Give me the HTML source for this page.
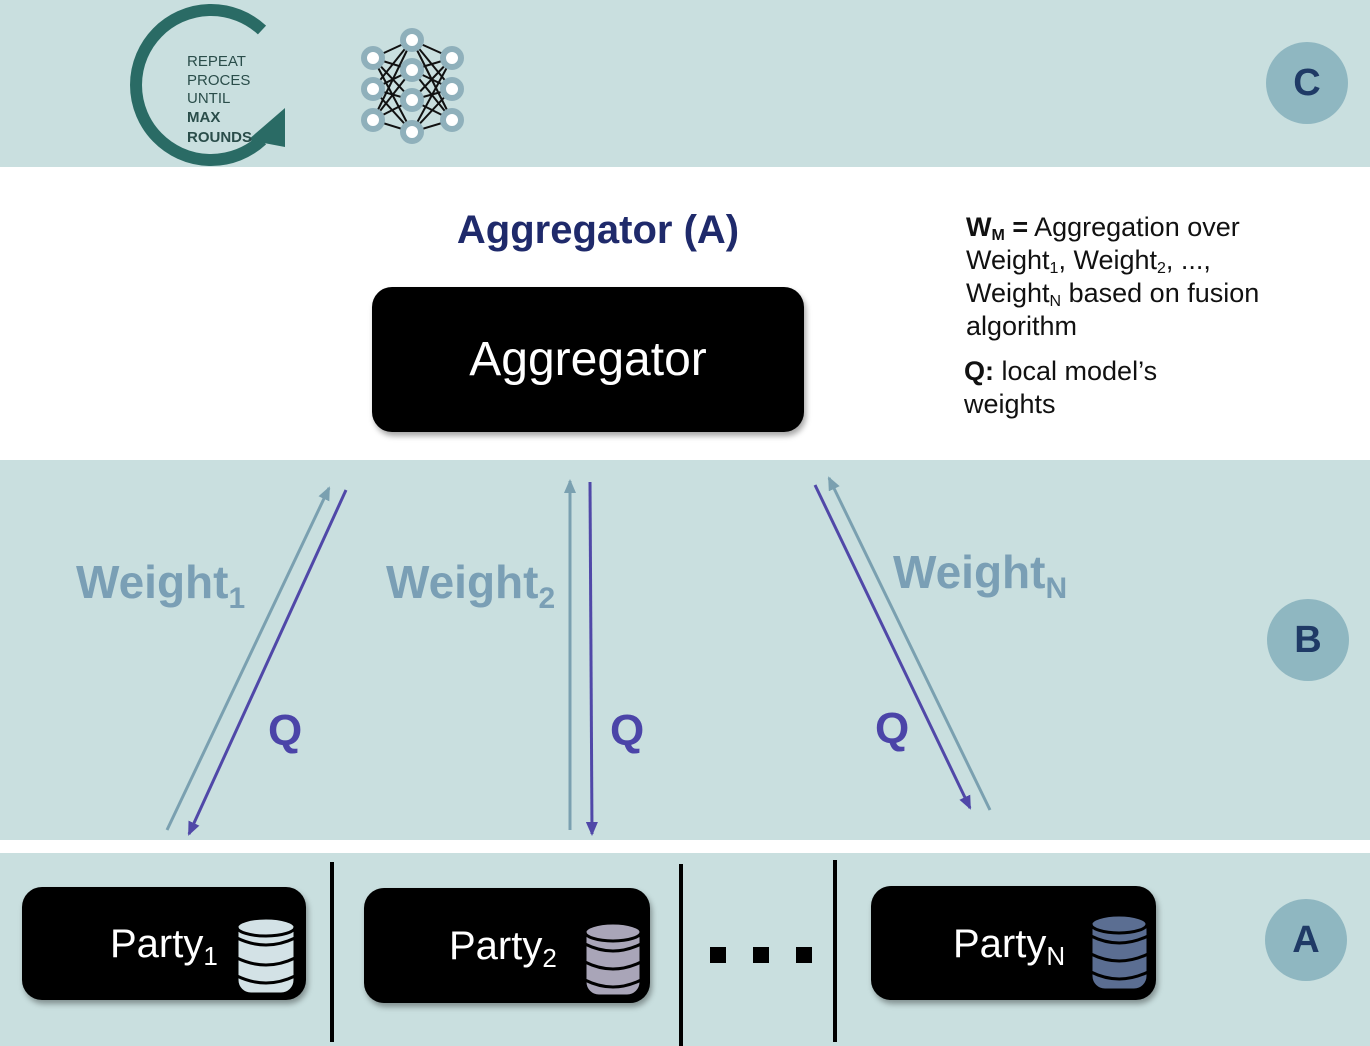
<!DOCTYPE html>
<html><head><meta charset="utf-8"><style>
body{margin:0;width:1370px;height:1046px;position:relative;overflow:hidden;background:#fff;font-family:"Liberation Sans",sans-serif}
.band{position:absolute;left:0;width:1370px;background:#c9dfdf}
.circ{position:absolute;width:82px;height:82px;border-radius:50%;background:#8fb7c1;color:#1f3a66;font-weight:bold;font-size:38px;text-align:center;line-height:82px}
.box{position:absolute;background:#000;border-radius:20px;box-shadow:2px 4px 6px rgba(0,0,0,.35);color:#fff}
.vl{position:absolute;width:4px;background:#000}
.pt{position:absolute;font-size:40px;color:#fff}
.pt sub{font-size:26px;vertical-align:-8px;line-height:0}
.wl{position:absolute;font-size:46px;font-weight:bold;color:#7a9fb5}
.wl sub{font-size:30px;vertical-align:-10px;line-height:0}
.q{position:absolute;font-size:44px;font-weight:bold;color:#4b44a8}
.rt{position:absolute;left:966px;font-size:27px;color:#111;line-height:33px}
.rt sub{font-size:16px;vertical-align:-4px;line-height:0}
</style></head><body>
<div class="band" style="top:0;height:167px"></div>
<div class="band" style="top:460px;height:380px"></div>
<div class="band" style="top:853px;height:193px"></div>

<svg style="position:absolute;left:0;top:0" width="1370" height="1046">
<path d="M262 30 A75 75 0 1 0 262 140" fill="none" stroke="#2a6b65" stroke-width="12"/>
<polygon points="285,108 285,147 248,140" fill="#2a6b65"/>
<text x="187" y="66" font-family="Liberation Sans" font-size="15" fill="#2a4d4a">REPEAT</text>
<text x="187" y="85" font-family="Liberation Sans" font-size="15" fill="#2a4d4a">PROCES</text>
<text x="187" y="103" font-family="Liberation Sans" font-size="15" fill="#2a4d4a">UNTIL</text>
<text x="187" y="122" font-family="Liberation Sans" font-size="15" font-weight="bold" fill="#2a4d4a">MAX</text>
<text x="187" y="142" font-family="Liberation Sans" font-size="15" font-weight="bold" fill="#2a4d4a">ROUNDS</text>
<g stroke="#111" stroke-width="2">
<line x1="373" y1="58" x2="412" y2="40"/><line x1="373" y1="58" x2="412" y2="70"/><line x1="373" y1="58" x2="412" y2="100"/><line x1="373" y1="58" x2="412" y2="132"/>
<line x1="373" y1="89" x2="412" y2="40"/><line x1="373" y1="89" x2="412" y2="70"/><line x1="373" y1="89" x2="412" y2="100"/><line x1="373" y1="89" x2="412" y2="132"/>
<line x1="373" y1="120" x2="412" y2="40"/><line x1="373" y1="120" x2="412" y2="70"/><line x1="373" y1="120" x2="412" y2="100"/><line x1="373" y1="120" x2="412" y2="132"/>
<line x1="452" y1="58" x2="412" y2="40"/><line x1="452" y1="58" x2="412" y2="70"/><line x1="452" y1="58" x2="412" y2="100"/><line x1="452" y1="58" x2="412" y2="132"/>
<line x1="452" y1="89" x2="412" y2="40"/><line x1="452" y1="89" x2="412" y2="70"/><line x1="452" y1="89" x2="412" y2="100"/><line x1="452" y1="89" x2="412" y2="132"/>
<line x1="452" y1="120" x2="412" y2="40"/><line x1="452" y1="120" x2="412" y2="70"/><line x1="452" y1="120" x2="412" y2="100"/><line x1="452" y1="120" x2="412" y2="132"/>
</g>
<g fill="#fff" stroke="#8fb0bb" stroke-width="6">
<circle cx="373" cy="58" r="9"/><circle cx="373" cy="89" r="9"/><circle cx="373" cy="120" r="9"/>
<circle cx="412" cy="40" r="9"/><circle cx="412" cy="70" r="9"/><circle cx="412" cy="100" r="9"/><circle cx="412" cy="132" r="9"/>
<circle cx="452" cy="58" r="9"/><circle cx="452" cy="89" r="9"/><circle cx="452" cy="120" r="9"/>
</g>
<defs>
<marker id="ml" markerWidth="14" markerHeight="12" refX="12" refY="6" orient="auto" markerUnits="userSpaceOnUse"><path d="M0,0 L14,6 L0,12 z" fill="#7aa0b0"/></marker>
<marker id="mp" markerWidth="14" markerHeight="12" refX="12" refY="6" orient="auto" markerUnits="userSpaceOnUse"><path d="M0,0 L14,6 L0,12 z" fill="#5048a8"/></marker>
</defs>
<g stroke-width="3" fill="none">
<line x1="167" y1="830" x2="329" y2="488" stroke="#7aa0b0" marker-end="url(#ml)"/>
<line x1="346" y1="490" x2="189" y2="834" stroke="#5048a8" marker-end="url(#mp)"/>
<line x1="570" y1="830" x2="570" y2="481" stroke="#7aa0b0" marker-end="url(#ml)"/>
<line x1="590" y1="482" x2="592" y2="834" stroke="#5048a8" marker-end="url(#mp)"/>
<line x1="990" y1="810" x2="829" y2="478" stroke="#7aa0b0" marker-end="url(#ml)"/>
<line x1="815" y1="485" x2="970" y2="808" stroke="#5048a8" marker-end="url(#mp)"/>
</g>
</svg>

<div class="circ" style="left:1266px;top:42px">C</div>
<div class="circ" style="left:1267px;top:599px">B</div>
<div class="circ" style="left:1265px;top:899px">A</div>

<div style="position:absolute;left:398px;top:208px;width:400px;text-align:center;font-size:40px;font-weight:bold;color:#1f2a6b">Aggregator (A)</div>
<div class="box" style="left:372px;top:287px;width:432px;height:145px;font-size:48px;text-align:center;line-height:145px">Aggregator</div>

<div class="rt" style="top:211px"><b>W<sub>M</sub> =</b> Aggregation over<br>Weight<sub>1</sub>, Weight<sub>2</sub>, ...,<br>Weight<sub>N</sub> based on fusion<br>algorithm</div>
<div class="rt" style="top:355px;left:964px"><b>Q:</b> local model’s<br>weights</div>

<div class="wl" style="left:76px;top:555px">Weight<sub>1</sub></div>
<div class="wl" style="left:386px;top:555px">Weight<sub>2</sub></div>
<div class="wl" style="left:893px;top:545px">Weight<sub>N</sub></div>
<div class="q" style="left:268px;top:706px">Q</div>
<div class="q" style="left:610px;top:706px">Q</div>
<div class="q" style="left:875px;top:704px">Q</div>

<div class="vl" style="left:330px;top:862px;height:180px"></div>
<div class="vl" style="left:679px;top:864px;height:182px"></div>
<div class="vl" style="left:833px;top:860px;height:182px"></div>
<div style="position:absolute;left:710px;top:947px;width:16px;height:16px;background:#000"></div>
<div style="position:absolute;left:753px;top:947px;width:16px;height:16px;background:#000"></div>
<div style="position:absolute;left:796px;top:947px;width:16px;height:16px;background:#000"></div>

<div class="box" style="left:22px;top:887px;width:284px;height:113px"></div>
<div class="pt" style="left:110px;top:922px">Party<sub>1</sub></div>
<div class="box" style="left:364px;top:888px;width:286px;height:115px"></div>
<div class="pt" style="left:449px;top:924px">Party<sub>2</sub></div>
<div class="box" style="left:871px;top:886px;width:285px;height:114px"></div>
<div class="pt" style="left:953px;top:922px">Party<sub>N</sub></div>

<svg style="position:absolute;left:0;top:0" width="1370" height="1046">
<g fill="#d3e2e6" stroke="#000" stroke-width="3">
<rect x="237" y="918" width="58" height="76" rx="14"/>
<path d="M237 938 Q266 952 295 938 M237 958 Q266 972 295 958 M237 976 Q266 990 295 976" fill="none"/>
<ellipse cx="266" cy="927" rx="29" ry="9"/>
</g>
<g fill="#a9a5b8" stroke="#000" stroke-width="3">
<rect x="585" y="924" width="56" height="72" rx="14"/>
<path d="M585 944 Q613 958 641 944 M585 962 Q613 976 641 962 M585 980 Q613 994 641 980" fill="none"/>
<ellipse cx="613" cy="932" rx="28" ry="9"/>
</g>
<g fill="#5b6e92" stroke="#000" stroke-width="3">
<rect x="1091" y="916" width="57" height="74" rx="14"/>
<path d="M1091 936 Q1119 950 1148 936 M1091 954 Q1119 968 1148 954 M1091 972 Q1119 986 1148 972" fill="none"/>
<ellipse cx="1119" cy="924" rx="28" ry="9"/>
</g>
</svg>
</body></html>
